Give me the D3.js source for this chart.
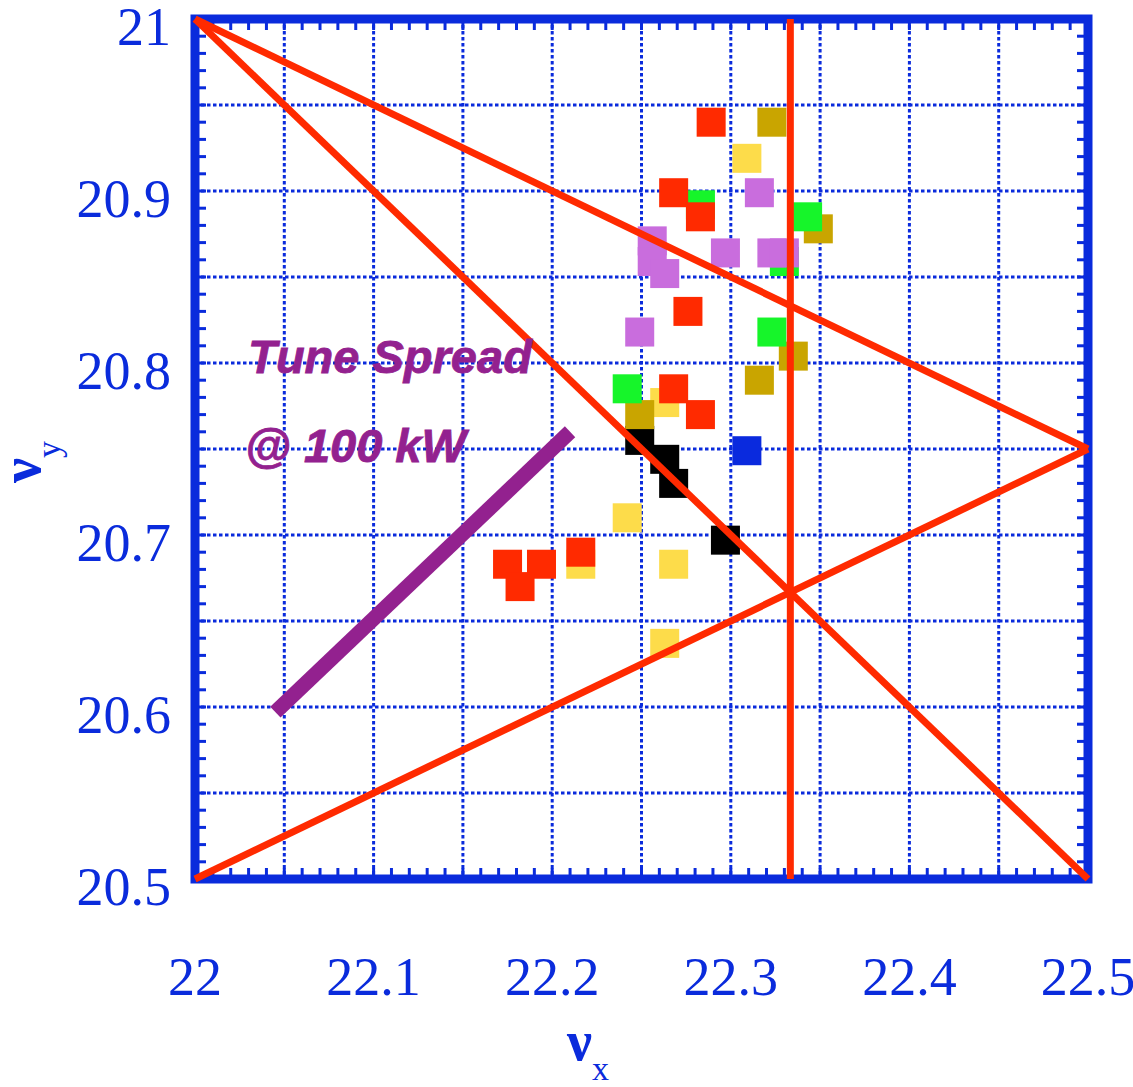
<!DOCTYPE html>
<html>
<head>
<meta charset="utf-8">
<script src="https://cdn.jsdelivr.net/npm/d3@7"></script>
<style>
  html, body { margin: 0; padding: 0; background: #fff; }
  svg { display: block; }
</style>
</head>
<body>
<svg id="chart" width="1133" height="1087"></svg>
<script>
// Tune diagram: measured working points (νx, νy) by group, resonance lines and tune-spread bar.
const xTickLabels = ["22", "22.1", "22.2", "22.3", "22.4", "22.5"];
const yTickLabels = ["20.5", "20.6", "20.7", "20.8", "20.9", "21"];

// Working points, one list per colour group: [νx, νy]
const blackPts  = [[22.249, 20.755], [22.263, 20.744], [22.268, 20.730], [22.297, 20.697]];
const bluePts   = [[22.309, 20.749]];
const yellowPts = [[22.309, 20.919], [22.263, 20.777], [22.242, 20.710], [22.216, 20.683],
                   [22.268, 20.683], [22.263, 20.637]];
const olivePts  = [[22.323, 20.940], [22.349, 20.878], [22.335, 20.804], [22.316, 20.790],
                   [22.249, 20.770]];
const greenPts  = [[22.283, 20.892], [22.343, 20.885], [22.330, 20.859], [22.323, 20.818],
                   [22.242, 20.785]];
const violetPts = [[22.316, 20.899], [22.256, 20.871], [22.256, 20.859], [22.263, 20.852],
                   [22.297, 20.864], [22.323, 20.864], [22.330, 20.864], [22.249, 20.818]];
const redPts    = [[22.289, 20.940], [22.268, 20.899], [22.283, 20.885], [22.276, 20.830],
                   [22.268, 20.785], [22.283, 20.770], [22.216, 20.690], [22.175, 20.683],
                   [22.194, 20.683], [22.182, 20.670]];

// Resonance lines as segment end points [[νx0, νy0], [νx1, νy1]]
const resonanceLines = [
  [[22.0, 21.0], [22.5, 20.5]],        // νx + νy = 43
  [[22.0, 21.0], [22.5, 20.75]],       // νx + 2νy = 64
  [[22.0, 20.5], [22.5, 20.75]],       // νx - 2νy = -19
  [[67 / 3, 20.5], [67 / 3, 21.0]]     // 3νx = 67
];

// Tune-spread bar at 100 kW
const spreadBar = [[22.045, 20.597], [22.210, 20.760]];
const spreadLabel = ["Tune Spread", "@ 100 kW"];

const svg = d3.select("#chart");
const x = d3.scaleLinear().domain([22, 22.5]).range([195, 1088]);
const y = d3.scaleLinear().domain([20.5, 21]).range([879, 19]);

const blue = "#0a2bdc";
const red = "#ff2a00";
const violetDark = "#93218f";

// grid every 0.05
const gridX = d3.range(1, 10).map(i => 22 + i * 0.05);
const gridY = d3.range(1, 10).map(i => 20.5 + i * 0.05);
const grid = svg.append("g")
  .attr("stroke", blue).attr("stroke-width", 3).attr("stroke-dasharray", "3.5,2.5");
grid.selectAll("line.gx").data(gridX).join("line")
  .attr("x1", d => x(d)).attr("x2", d => x(d)).attr("y1", y(21)).attr("y2", y(20.5));
grid.selectAll("line.gy").data(gridY).join("line")
  .attr("y1", d => y(d)).attr("y2", d => y(d)).attr("x1", x(22)).attr("x2", x(22.5));

// minor ticks every 0.01 on all four sides
const minorX = d3.range(1, 50).map(i => 22 + i * 0.01);
const minorY = d3.range(1, 50).map(i => 20.5 + i * 0.01);
const tickLen = 11;
const ticks = svg.append("g").attr("stroke", blue).attr("stroke-width", 3);
ticks.selectAll("line.tb").data(minorX).join("line")
  .attr("x1", d => x(d)).attr("x2", d => x(d)).attr("y1", y(20.5)).attr("y2", y(20.5) - tickLen);
ticks.selectAll("line.tt").data(minorX).join("line")
  .attr("x1", d => x(d)).attr("x2", d => x(d)).attr("y1", y(21)).attr("y2", y(21) + tickLen);
ticks.selectAll("line.tl").data(minorY).join("line")
  .attr("y1", d => y(d)).attr("y2", d => y(d)).attr("x1", x(22)).attr("x2", x(22) + tickLen);
ticks.selectAll("line.tr").data(minorY).join("line")
  .attr("y1", d => y(d)).attr("y2", d => y(d)).attr("x1", x(22.5)).attr("x2", x(22.5) - tickLen);

// working points, drawn back to front
const sq = 29;
const groups = [
  [blackPts, "#000000"], [bluePts, "#0a2ade"], [yellowPts, "#fddc4a"],
  [olivePts, "#c9a500"], [greenPts, "#16f52a"], [violetPts, "#c96ddd"], [redPts, red]
];
groups.forEach(([pts, col]) => {
  svg.append("g").selectAll("rect").data(pts).join("rect")
    .attr("x", d => x(d[0]) - sq / 2).attr("y", d => y(d[1]) - sq / 2)
    .attr("width", sq).attr("height", sq).attr("fill", col);
});

// frame
svg.append("rect")
  .attr("x", x(22)).attr("y", y(21))
  .attr("width", x(22.5) - x(22)).attr("height", y(20.5) - y(21))
  .attr("fill", "none").attr("stroke", blue).attr("stroke-width", 9);

// resonance lines
svg.append("g").selectAll("line").data(resonanceLines).join("line")
  .attr("x1", d => x(d[0][0])).attr("y1", d => y(d[0][1]))
  .attr("x2", d => x(d[1][0])).attr("y2", d => y(d[1][1]))
  .attr("stroke", red).attr("stroke-width", 7);

// tune-spread bar
svg.append("line")
  .attr("x1", x(spreadBar[0][0])).attr("y1", y(spreadBar[0][1]))
  .attr("x2", x(spreadBar[1][0])).attr("y2", y(spreadBar[1][1]))
  .attr("stroke", violetDark).attr("stroke-width", 15);

const lbl = svg.append("g")
  .attr("fill", violetDark).attr("stroke", violetDark).attr("stroke-width", 0.8)
  .attr("font-family", "'Liberation Sans', Arial, sans-serif")
  .attr("font-weight", "bold").attr("font-style", "italic").attr("font-size", 47);
lbl.append("text").attr("x", x(22.0297)).attr("y", y(20.7942)).text(spreadLabel[0]);
lbl.append("text").attr("x", x(22.028)).attr("y", y(20.7424)).text(spreadLabel[1]);

// tick labels
const serif = "'Liberation Serif', 'Times New Roman', serif";
svg.append("g").selectAll("text").data(xTickLabels).join("text")
  .attr("x", d => x(+d)).attr("y", 995)
  .attr("text-anchor", "middle")
  .attr("font-family", serif).attr("font-size", 54).attr("fill", blue)
  .text(d => d);
svg.append("g").selectAll("text").data(yTickLabels).join("text")
  .attr("x", 171).attr("y", d => y(+d) + 26)
  .attr("text-anchor", "end")
  .attr("font-family", serif).attr("font-size", 54).attr("fill", blue)
  .text(d => d);

// axis titles
const xt = svg.append("text")
  .attr("transform", "translate(567,1060)")
  .attr("font-family", serif).attr("fill", blue);
xt.append("tspan").attr("font-size", 56).attr("font-weight", "bold").text("ν");
xt.append("tspan").attr("font-size", 34).attr("dy", 20).text("x");

const yt = svg.append("text")
  .attr("transform", "translate(40,483) rotate(-90)")
  .attr("font-family", serif).attr("fill", blue);
yt.append("tspan").attr("font-size", 56).attr("font-weight", "bold").text("ν");
yt.append("tspan").attr("font-size", 34).attr("dy", 20).text("y");
</script>
</body>
</html>
